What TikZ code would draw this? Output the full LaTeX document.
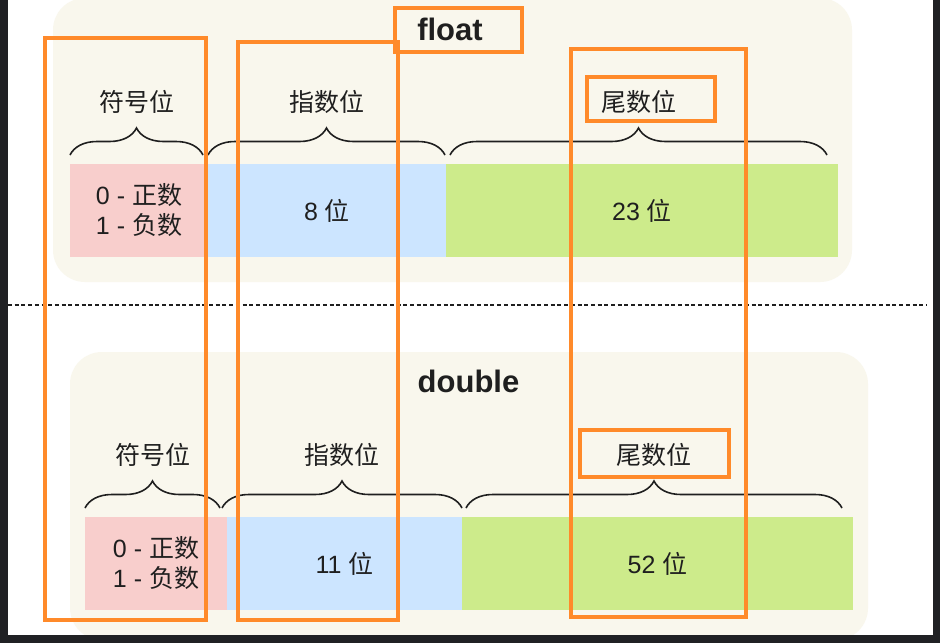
\documentclass[tikz,border=0pt]{standalone}
\usepackage{fontspec}
\setmainfont{Liberation Sans}
\newfontfamily\cjkfont{Noto Sans CJK SC}
\newcommand\zh[1]{{\cjkfont #1}}
\usetikzlibrary{positioning, decorations.pathreplacing}
\definecolor{ccream}{HTML}{F9F7ED}
\definecolor{cpink}{HTML}{F8CECC}
\definecolor{cblue}{HTML}{CCE5FF}
\definecolor{cgreen}{HTML}{CDEB8B}
\definecolor{corange}{HTML}{FF8A2A}
\definecolor{cink}{HTML}{1F1F1F}
\definecolor{cframe}{HTML}{202124}
\tikzset{
  every picture/.style={x=1pt, y=-1pt, font=\fontsize{25}{30}\selectfont, text=cink},
  panel/.style={fill=ccream, rounded corners=32pt},
  bar/.style={fill=#1, minimum height=93pt, inner sep=0pt, outer sep=0pt, align=center},
  brace/.style={decorate, decoration={brace, amplitude=27pt}, draw=cink, line width=1.6pt},
  part/.style={font=\cjkfont\fontsize{25}{30}\selectfont, midway, yshift=53pt},
  kind/.style={font=\bfseries\fontsize{31}{37}\selectfont},
  hilite/.style={draw=corange, line width=3.5pt},
}

\begin{document}
\begin{tikzpicture}
  \useasboundingbox (0,0) rectangle (940,643);
  \fill[white] (0,0) rectangle (940,643);
  % the two format panels
  \fill[panel] (53,-2) rectangle (852,282);
  \fill[panel] (70,352) rectangle (868,640);
  % float: 1 + 8 + 23 bits
  \node[kind] (ftitle) at (450,29) {float};
  \node[bar=cpink, anchor=north west, minimum width=138pt] (fsign) at (70,164) {0 - \zh{正数}\\1 - \zh{负数}};
  \node[bar=cblue, right=0pt of fsign, minimum width=238pt] (fexp) {8 \zh{位}};
  \node[bar=cgreen, right=0pt of fexp, minimum width=392pt] (fman) {23 \zh{位}};
  \draw[brace] ([yshift=9pt]fsign.north west) -- ([xshift=-5pt,yshift=9pt]fsign.north east) node[part] (fsignl) {符号位};
  \draw[brace] ([yshift=9pt]fexp.north west) -- ([xshift=-1pt,yshift=9pt]fexp.north east) node[part] (fexpl) {指数位};
  \draw[brace] ([xshift=4pt,yshift=9pt]fman.north west) -- ([xshift=-11pt,yshift=9pt]fman.north east) node[part] (fmanl) {尾数位};
  % double: 1 + 11 + 52 bits
  \node[kind] (dtitle) at (468.5,381) {double};
  \node[bar=cpink, anchor=north west, minimum width=142pt] (dsign) at (85,517) {0 - \zh{正数}\\1 - \zh{负数}};
  \node[bar=cblue, right=0pt of dsign, minimum width=235pt] (dexp) {11 \zh{位}};
  \node[bar=cgreen, right=0pt of dexp, minimum width=391pt] (dman) {52 \zh{位}};
  \draw[brace] ([yshift=9pt]dsign.north west) -- ([xshift=-7pt,yshift=9pt]dsign.north east) node[part] (dsignl) {符号位};
  \draw[brace] ([xshift=-5pt,yshift=9pt]dexp.north west) -- ([yshift=9pt]dexp.north east) node[part] (dexpl) {指数位};
  \draw[brace] ([xshift=4pt,yshift=9pt]dman.north west) -- ([xshift=-11pt,yshift=9pt]dman.north east) node[part] (dmanl) {尾数位};
  % divider
  \draw[cink, line width=1.3pt, dash pattern=on 4pt off 2.7pt] (8,305) -- (927,305);
  % orange highlights
  \draw[hilite] (45,38) rectangle (206,620);
  \draw[hilite] (238,42) rectangle (398,620);
  \draw[hilite] (571,49) rectangle (746,617);
  \draw[hilite] (395,8) rectangle (522,52);
  \draw[hilite] (587,77) rectangle (715,121);
  \draw[hilite] (580,430) rectangle (729,477);
  % window frame
  \fill[cframe] (0,0) rectangle (8,643);
  \fill[cframe] (933,0) rectangle (940,643);
  \fill[cframe] (0,635) rectangle (940,643);
\end{tikzpicture}
\end{document}
